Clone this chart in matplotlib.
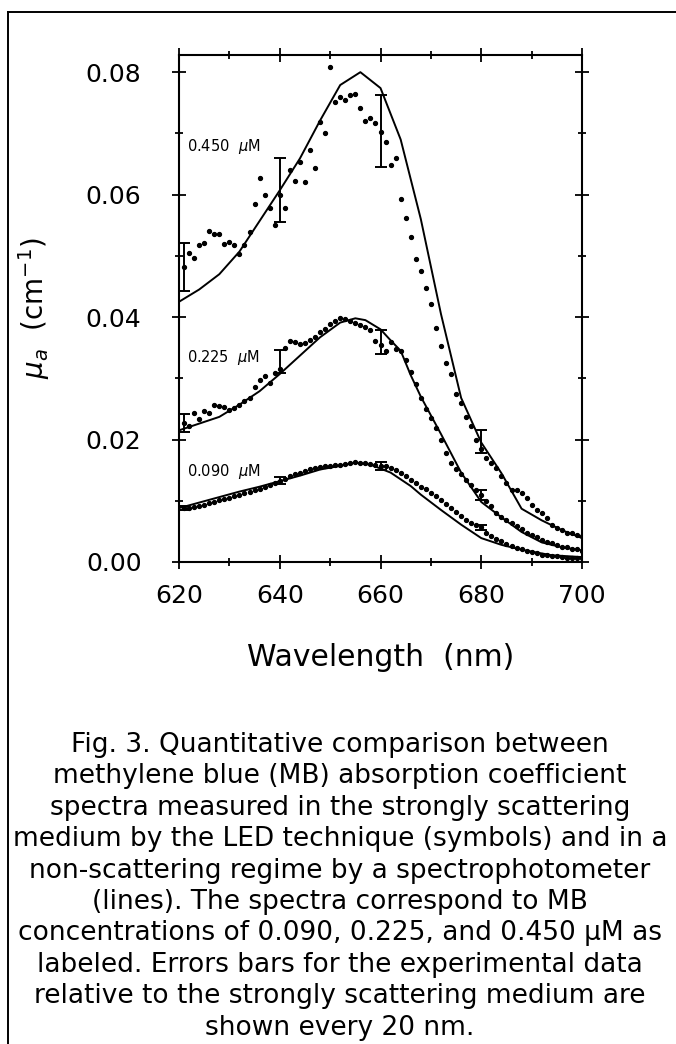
import matplotlib.pyplot as plt
from matplotlib.ticker import MultipleLocator, FormatStrFormatter
from matplotlib.lines import Line2D

# measured points (LED technique), one every nm from 621 to 700 nm
wl_dots = list(range(621, 701))
dots_450 = [0.0482, 0.0505, 0.0497, 0.0517, 0.0521, 0.0540, 0.0536, 0.0536, 0.0519, 0.0523,
            0.0518, 0.0503, 0.0517, 0.0539, 0.0585, 0.0627, 0.0600, 0.0578, 0.0551, 0.0600,
            0.0578, 0.0641, 0.0622, 0.0654, 0.0620, 0.0673, 0.0643, 0.0719, 0.0701, 0.0809,
            0.0752, 0.0759, 0.0755, 0.0762, 0.0764, 0.0741, 0.0721, 0.0725, 0.0717, 0.0703,
            0.0686, 0.0649, 0.0660, 0.0593, 0.0562, 0.0530, 0.0495, 0.0475, 0.0448, 0.0422,
            0.0382, 0.0352, 0.0325, 0.0307, 0.0274, 0.0259, 0.0236, 0.0222, 0.0200, 0.0185,
            0.0170, 0.0162, 0.0154, 0.0140, 0.0129, 0.0118, 0.0118, 0.0113, 0.0104, 0.0093,
            0.0085, 0.0080, 0.0072, 0.0061, 0.0055, 0.0052, 0.0048, 0.0047, 0.0044, 0.0042]
dots_225 = [0.0227, 0.0222, 0.0243, 0.0234, 0.0247, 0.0244, 0.0256, 0.0255, 0.0253, 0.0249,
            0.0252, 0.0257, 0.0263, 0.0268, 0.0285, 0.0298, 0.0304, 0.0293, 0.0309, 0.0316,
            0.0350, 0.0361, 0.0360, 0.0356, 0.0357, 0.0363, 0.0368, 0.0375, 0.0380, 0.0389,
            0.0394, 0.0398, 0.0397, 0.0394, 0.0391, 0.0387, 0.0383, 0.0379, 0.0361, 0.0355,
            0.0345, 0.0359, 0.0348, 0.0345, 0.0330, 0.0310, 0.0290, 0.0268, 0.0250, 0.0235,
            0.0219, 0.0200, 0.0178, 0.0162, 0.0152, 0.0143, 0.0134, 0.0125, 0.0118, 0.0109,
            0.0099, 0.0091, 0.0080, 0.0074, 0.0069, 0.0063, 0.0058, 0.0054, 0.0048, 0.0044,
            0.0041, 0.0036, 0.0033, 0.0031, 0.0028, 0.0025, 0.0024, 0.0022, 0.0021, 0.0018]
dots_090 = [0.0088, 0.0088, 0.0089, 0.0091, 0.0093, 0.0096, 0.0098, 0.0102, 0.0103, 0.0105,
            0.0108, 0.0110, 0.0112, 0.0114, 0.0117, 0.0120, 0.0123, 0.0126, 0.0129, 0.0133,
            0.0136, 0.0140, 0.0143, 0.0146, 0.0149, 0.0152, 0.0154, 0.0155, 0.0156, 0.0157,
            0.0158, 0.0159, 0.0160, 0.0162, 0.0163, 0.0162, 0.0161, 0.0160, 0.0159, 0.0157,
            0.0156, 0.0154, 0.0151, 0.0146, 0.0140, 0.0134, 0.0129, 0.0123, 0.0119, 0.0112,
            0.0107, 0.0102, 0.0095, 0.0088, 0.0081, 0.0075, 0.0069, 0.0064, 0.0060, 0.0057,
            0.0048, 0.0042, 0.0038, 0.0034, 0.0030, 0.0026, 0.0023, 0.0021, 0.0018, 0.0016,
            0.0014, 0.0012, 0.0011, 0.0010, 0.0009, 0.0008, 0.0007, 0.0007, 0.0006, 0.0006]

# spectrophotometer curves
wl_450 = [620, 624, 628, 632, 636, 640, 644, 648, 652, 656, 660, 664, 668, 672, 676,
          680, 684, 688, 692, 696, 700]
line_450 = [0.0425, 0.0445, 0.0470, 0.0507, 0.0557, 0.0607, 0.0659, 0.0721, 0.0779, 0.0800,
            0.0774, 0.0690, 0.0560, 0.0405, 0.0268, 0.0195, 0.0145, 0.0087, 0.0068, 0.0052,
            0.0039]
wl_225 = [620, 624, 628, 632, 636, 640, 644, 648, 652, 655, 657, 660, 662, 664, 666, 668,
          672, 676, 680, 684, 688, 692, 696, 700]
line_225 = [0.0215, 0.0226, 0.0237, 0.0257, 0.0279, 0.0307, 0.0337, 0.0367, 0.0391, 0.0398,
            0.0395, 0.0380, 0.0362, 0.0345, 0.0305, 0.0270, 0.0209, 0.0146, 0.0098, 0.0073,
            0.0049, 0.0032, 0.0024, 0.0019]
wl_090 = [620, 624, 628, 632, 636, 640, 644, 648, 652, 655, 658, 662, 666, 668, 672, 676,
          680, 684, 688, 694, 700]
line_090 = [0.0088, 0.0097, 0.0106, 0.0115, 0.0123, 0.0132, 0.0141, 0.0151, 0.0157, 0.0162,
            0.0159, 0.0146, 0.0124, 0.0110, 0.0085, 0.0061, 0.0039, 0.0028, 0.0020, 0.0011,
            0.0008]

# error bars every 20 nm
wl_err = [621, 640, 660, 680]
err_450_y = [0.0482, 0.0608, 0.0704, 0.0197]
err_450 = [0.0039, 0.0052, 0.0059, 0.0019]
err_225_y = [0.0227, 0.0328, 0.0359, 0.0109]
err_225 = [0.0014, 0.0019, 0.0020, 0.0008]
err_090_y = [0.0088, 0.0133, 0.0157, 0.0057]
err_090 = [0.0003, 0.0006, 0.0007, 0.0004]

labels = ['0.450  $\\mu$M', '0.225  $\\mu$M', '0.090  $\\mu$M']
label_y = [0.0679, 0.0334, 0.0148]

caption = ["Fig. 3. Quantitative comparison between",
           "methylene blue (MB) absorption coefficient",
           "spectra measured in the strongly scattering",
           "medium by the LED technique (symbols) and in a",
           "non-scattering regime by a spectrophotometer",
           "(lines). The spectra correspond to MB",
           "concentrations of 0.090, 0.225, and 0.450 \u00b5M as",
           "labeled. Errors bars for the experimental data",
           "relative to the strongly scattering medium are",
           "shown every 20 nm."]

plt.rcParams['font.family'] = ['DejaVu Sans']
plt.rcParams['mathtext.fontset'] = 'dejavusans'

fig = plt.figure(figsize=(6.76, 10.44), dpi=100)
ax = fig.add_axes([0.2648, 0.4617, 0.5962, 0.4856])

for x, y in [(wl_450, line_450), (wl_225, line_225), (wl_090, line_090)]:
    ax.plot(x, y, color='black', lw=1.4)
for y in [dots_450, dots_225, dots_090]:
    ax.plot(wl_dots, y, linestyle='none', marker='o', ms=2.8, color='black')
for y, e in [(err_450_y, err_450), (err_225_y, err_225), (err_090_y, err_090)]:
    ax.errorbar(wl_err, y, yerr=e, fmt='none', ecolor='black', elinewidth=1.4,
                capsize=4, capthick=1.4)

for txt, y in zip(labels, label_y):
    ax.text(621.5, y, txt, fontsize=10.5, va='center', ha='left')

ax.set_xlim(620, 700)
ax.set_ylim(0, 0.0828)
ax.xaxis.set_major_locator(MultipleLocator(20))
ax.xaxis.set_minor_locator(MultipleLocator(10))
ax.yaxis.set_major_locator(MultipleLocator(0.02))
ax.yaxis.set_minor_locator(MultipleLocator(0.01))
ax.yaxis.set_major_formatter(FormatStrFormatter('%.2f'))
ax.tick_params(which='both', direction='inout', top=True, right=True, width=1.3)
ax.tick_params(which='major', length=10)
ax.tick_params(which='minor', length=6)
ax.tick_params(axis='x', which='major', labelsize=18, pad=11)
ax.tick_params(axis='y', which='major', labelsize=18, pad=22)
for s in ax.spines.values():
    s.set_linewidth(1.5)

ax.set_xlabel('Wavelength  (nm)', fontsize=21.5)
ax.xaxis.set_label_coords(0.5, -0.16)
ax.set_ylabel('$\\mu_a$  (cm$^{-1}$)', fontsize=20)
ax.yaxis.set_label_coords(-0.315, 0.5)

for i, line in enumerate(caption):
    fig.text(0.503, 1 - (745 + 31.4 * i) / 1044, line, ha='center', va='center',
             fontsize=19)

# outer frame (top and left edges)
fig.add_artist(Line2D([0.0118, 1.0], [0.9885, 0.9885], color='black', lw=1.4))
fig.add_artist(Line2D([0.0118, 0.0118], [0.0, 0.9885], color='black', lw=1.4))

fig.savefig('out.png', dpi=100)
